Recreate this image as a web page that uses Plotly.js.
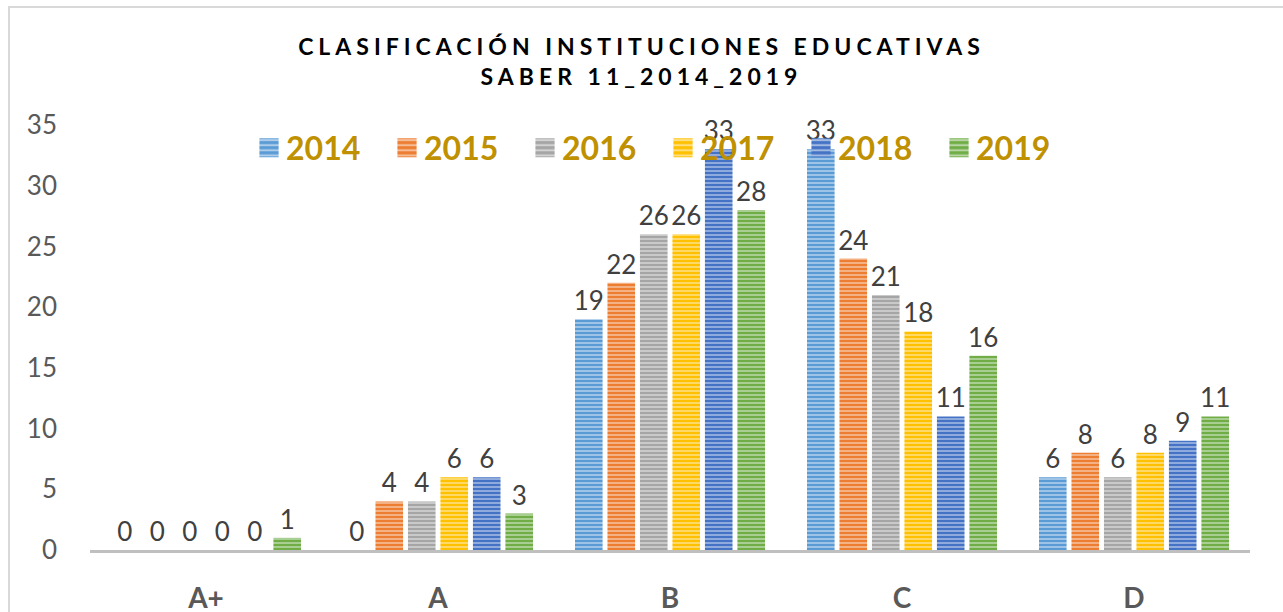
<!DOCTYPE html>
<html>
<head>
<meta charset="utf-8">
<script src="https://cdn.plot.ly/plotly-3.0.1.min.js"></script>
<style>
  html, body { margin: 0; padding: 0; background: #fff; }
  #chart { width: 1283px; height: 612px; }
  .gtitle { letter-spacing: 5px; }
  g.legendpoints path { transform: translate(23px, 0px) scale(1.6); }
</style>
</head>
<body>
<div id="chart"></div>
<script>
const categories = ["A+", "A", "B", "C", "D"];
const years = ["2014", "2015", "2016", "2017", "2018", "2019"];
const v2014 = [0, 0, 19, 33, 6];
const v2015 = [0, 4, 22, 24, 8];
const v2016 = [0, 4, 26, 21, 6];
const v2017 = [0, 6, 26, 18, 8];
const v2018 = [0, 6, 33, 11, 9];
const v2019 = [1, 3, 28, 16, 11];
const seriesValues = [v2014, v2015, v2016, v2017, v2018, v2019];
const colors = ["#5B9BD5", "#ED7D31", "#A5A5A5", "#FFC000", "#4472C4", "#70AD47"];

const traces = years.map((y, i) => ({
  type: "bar",
  name: y,
  x: categories,
  y: seriesValues[i],
  text: seriesValues[i].map(String),
  textposition: "outside",
  constraintext: "none",
  cliponaxis: false,
  textfont: { family: "Lato, 'Open Sans', sans-serif", size: 26, color: "#404040" },
  marker: {
    color: colors[i],
    line: { width: 0 },
    pattern: { shape: "-", fillmode: "replace", bgcolor: colors[i], fgcolor: "#ffffff", fgopacity: 0.5, size: 4, solidity: 0.4 }
  },
  hoverinfo: "none"
}));

const layout = {
  width: 1283,
  height: 612,
  margin: { l: 90, r: 33, t: 125, b: 62 },
  paper_bgcolor: "#ffffff",
  plot_bgcolor: "#ffffff",
  barmode: "group",
  bargap: 0.16,
  bargroupgap: 0.15,
  showlegend: true,
  title: {
    text: "CLASIFICACIÓN INSTITUCIONES EDUCATIVAS<br>SABER 11_2014_2019",
    font: { family: "Lato, 'Open Sans', sans-serif", size: 23, color: "#000000", weight: "bold" },
    x: 0.5, xref: "container", xanchor: "center",
    y: 0.91, yref: "container", yanchor: "top"
  },
  legend: {
    orientation: "h",
    x: 0.1345, xanchor: "left",
    y: 0.946, yanchor: "middle",
    font: { family: "Lato, 'Open Sans', sans-serif", size: 32, color: "#BF9000", weight: "bold" },
    bgcolor: "rgba(0,0,0,0)",
    entrywidth: 93,
    entrywidthmode: "pixels",
    traceorder: "normal"
  },
  xaxis: {
    type: "category",
    showline: true,
    linecolor: "#BFBFBF",
    linewidth: 3,
    showgrid: false,
    zeroline: false,
    ticks: "",
    ticklabelstandoff: 21,
    tickfont: { family: "Lato, 'Open Sans', sans-serif", size: 28, color: "#595959", weight: "bold" }
  },
  yaxis: {
    range: [0, 35],
    dtick: 5,
    tick0: 0,
    showline: false,
    showgrid: false,
    zeroline: false,
    ticks: "",
    ticklabelstandoff: 32,
    tickfont: { family: "Lato, 'Open Sans', sans-serif", size: 26, color: "#595959" }
  },
  shapes: [{
    type: "rect", xref: "paper", yref: "paper",
    x0: -81 / 1160, x1: 1.5, y0: -1, y1: 543 / 425,
    line: { color: "#D9D9D9", width: 2 },
    fillcolor: "rgba(0,0,0,0)",
    layer: "below"
  }]
};

Plotly.newPlot("chart", traces, layout, { displayModeBar: false, staticPlot: true });
</script>
</body>
</html>
